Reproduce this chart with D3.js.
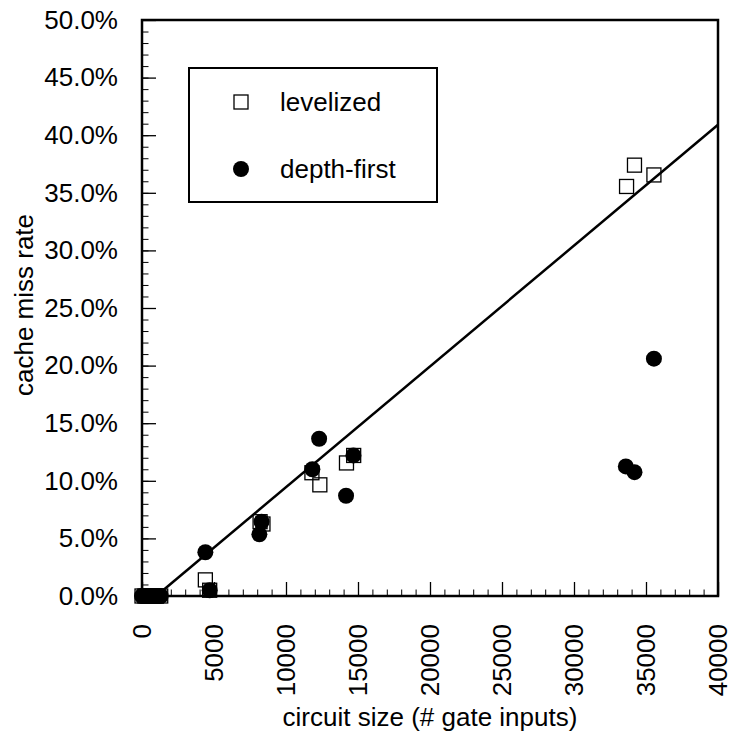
<!DOCTYPE html>
<html><head><meta charset="utf-8">
<script src="https://cdn.jsdelivr.net/npm/d3@7"></script>
<style>body{margin:0;background:#fff}svg{display:block}</style>
</head><body>
<svg id="c" width="733" height="733"></svg>
<script>
// ---- data (circuit size in # gate inputs, cache miss rate in %) ----
const levelizedSize = [0, 200, 400, 600, 800, 1000, 1300, 4400, 4700, 8200, 8400, 11800, 12350, 14200, 14700, 33650, 34200, 35550];
const levelizedMiss = [0, 0, 0, 0, 0, 0, 0, 1.4, 0.5, 6.45, 6.25, 10.7, 9.65, 11.55, 12.2, 35.55, 37.4, 36.55];
const depthFirstSize = [0, 200, 400, 600, 800, 1000, 1300, 4400, 4700, 8150, 8300, 11830, 12300, 14170, 14680, 33600, 34200, 35550];
const depthFirstMiss = [0, 0, 0, 0, 0, 0, 0, 3.8, 0.5, 5.35, 6.45, 11.0, 13.65, 8.7, 12.2, 11.25, 10.75, 20.6];
const fitSize = [990, 40000];
const fitMiss = [0, 40.9];
const xTicks = [0, 5000, 10000, 15000, 20000, 25000, 30000, 35000, 40000];
const yTicks = [0, 5, 10, 15, 20, 25, 30, 35, 40, 45, 50];
const seriesNames = ["levelized", "depth-first"];

const FONT = "'Liberation Sans', Arial, Helvetica, sans-serif";
const svg = d3.select("#c");
const L = 142, T = 20, W = 576, H = 576;
const x = d3.scaleLinear().domain([0, 40000]).range([L, L + W]);
const y = d3.scaleLinear().domain([0, 50]).range([T + H, T]);

const g = svg.append("g");

// minor ticks
const xMinor = d3.range(0, 40001, 1000);
const yMinor = d3.range(0, 50.01, 1);
g.append("g").attr("transform", `translate(0,${T + H})`)
  .call(d3.axisBottom(x).tickValues(xMinor).tickSize(-6.5).tickFormat(""))
  .call(s => { s.select(".domain").remove(); s.selectAll("line").attr("stroke-width", 1); });
g.append("g").attr("transform", `translate(${L},0)`)
  .call(d3.axisLeft(y).tickValues(yMinor).tickSize(-6.5).tickFormat(""))
  .call(s => { s.select(".domain").remove(); s.selectAll("line").attr("stroke-width", 1); });

// major ticks + labels
const xa = g.append("g").attr("transform", `translate(0,${T + H})`)
  .call(d3.axisBottom(x).tickValues(xTicks).tickSize(-14).tickPadding(0).tickFormat(d3.format("d")));
xa.select(".domain").remove();
xa.selectAll("line").attr("stroke-width", 1.3);
xa.selectAll("text")
  .attr("font-family", FONT).attr("font-size", 26).attr("fill", "#000")
  .attr("text-anchor", "end")
  .attr("transform", "rotate(-90)")
  .attr("x", -28).attr("y", -1).attr("dy", "0.35em");

const ya = g.append("g").attr("transform", `translate(${L},0)`)
  .call(d3.axisLeft(y).tickValues(yTicks).tickSize(-14).tickPadding(24).tickFormat(d => d.toFixed(1) + "%"));
ya.select(".domain").remove();
ya.selectAll("line").attr("stroke-width", 1.3);
ya.selectAll("text").attr("font-family", FONT).attr("font-size", 26).attr("fill", "#000").attr("x", -24);

// frame
g.append("rect").attr("x", L).attr("y", T).attr("width", W).attr("height", H)
  .attr("fill", "none").attr("stroke", "#000").attr("stroke-width", 2.5);

// regression line
const fit = fitSize.map((s, i) => [s, fitMiss[i]]);
g.append("path").datum(fit)
  .attr("d", d3.line().x(d => x(d[0])).y(d => y(d[1])))
  .attr("stroke", "#000").attr("stroke-width", 2.5).attr("fill", "none");

// levelized squares
const lev = levelizedSize.map((s, i) => [s, levelizedMiss[i]]);
const sq = 14;
g.selectAll("rect.lev").data(lev).join("rect").attr("class", "lev")
  .attr("x", d => x(d[0]) - sq / 2).attr("y", d => y(d[1]) - sq / 2)
  .attr("width", sq).attr("height", sq)
  .attr("fill", "none").attr("stroke", "#000").attr("stroke-width", 1.3);

// depth-first circles
const dfs = depthFirstSize.map((s, i) => [s, depthFirstMiss[i]]);
g.selectAll("circle.dfs").data(dfs).join("circle").attr("class", "dfs")
  .attr("cx", d => x(d[0])).attr("cy", d => y(d[1])).attr("r", 8)
  .attr("fill", "#000");

// legend
const lg = g.append("g");
lg.append("rect").attr("x", 189).attr("y", 68).attr("width", 248).attr("height", 134)
  .attr("fill", "#fff").attr("stroke", "#000").attr("stroke-width", 2);
lg.append("rect").attr("x", 241 - sq / 2).attr("y", 102 - sq / 2).attr("width", sq).attr("height", sq)
  .attr("fill", "none").attr("stroke", "#000").attr("stroke-width", 1.3);
lg.append("circle").attr("cx", 241).attr("cy", 169).attr("r", 8).attr("fill", "#000");
lg.selectAll("text").data(seriesNames).join("text")
  .attr("x", 280).attr("y", (d, i) => i === 0 ? 102 : 169).attr("dy", "0.35em")
  .attr("font-family", FONT).attr("font-size", 26).attr("fill", "#000")
  .text(d => d);

// axis titles
g.append("text").attr("x", L + W / 2).attr("y", 726).attr("text-anchor", "middle")
  .attr("font-family", FONT).attr("font-size", 26).attr("fill", "#000")
  .text("circuit size (# gate inputs)");
g.append("text").attr("transform", "translate(33,305) rotate(-90)").attr("text-anchor", "middle")
  .attr("font-family", FONT).attr("font-size", 26).attr("fill", "#000")
  .text("cache miss rate");
</script>
</body></html>
